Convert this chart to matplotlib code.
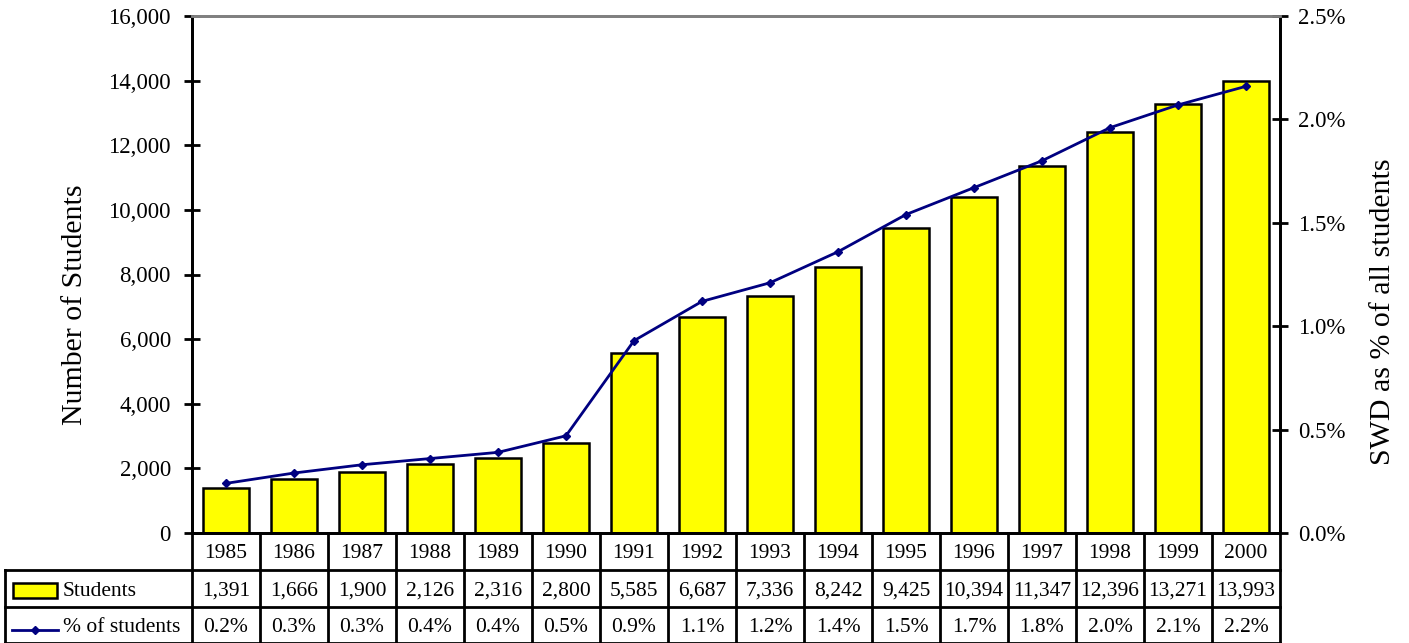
import numpy as np
import matplotlib.pyplot as plt
from matplotlib.patches import Rectangle
from matplotlib.lines import Line2D
from matplotlib.ticker import FuncFormatter
import matplotlib.transforms as mtransforms

plt.rcParams['font.family'] = ['Liberation Serif', 'DejaVu Serif']

# ---- data ----
years = ['1985', '1986', '1987', '1988', '1989', '1990', '1991', '1992',
         '1993', '1994', '1995', '1996', '1997', '1998', '1999', '2000']
students = [1391, 1666, 1900, 2126, 2316, 2800, 5585, 6687,
            7336, 8242, 9425, 10394, 11347, 12396, 13271, 13993]
pct = [0.24, 0.29, 0.33, 0.36, 0.39, 0.47, 0.93, 1.12,
       1.21, 1.36, 1.54, 1.67, 1.80, 1.96, 2.07, 2.16]

W, H = 1409, 643
fig = plt.figure(figsize=(W / 100, H / 100), dpi=100)

# axes box in pixels
x0, x1 = 192, 1280
y_top, y_bot = 16, 533
ax = fig.add_axes([x0 / W, (H - y_bot) / H, (x1 - x0) / W, (y_bot - y_top) / H])
ax2 = ax.twinx()

x = np.arange(len(years))
ax.bar(x, students, width=0.68, color='#FFFF00', edgecolor='black', linewidth=1.8, zorder=2)
ax2.plot(x, pct, color='#000080', lw=2, marker='D', ms=4, zorder=3)

ax.set_xlim(-0.5, len(years) - 0.5)
ax.set_ylim(0, 16000)
ax.set_yticks(np.arange(0, 16001, 2000))
ax.yaxis.set_major_formatter(FuncFormatter(lambda v, p: f'{int(v):,}'))
ax2.set_ylim(0, 2.5)
ax2.set_yticks(np.arange(0, 2.51, 0.5))
ax2.yaxis.set_major_formatter(FuncFormatter(lambda v, p: f'{v:.1f}%'))
ax.set_xticks([])

for a in (ax, ax2):
    a.spines['top'].set_color('#808080')
    a.spines['top'].set_linewidth(2)
    a.spines['left'].set_linewidth(2)
    a.spines['right'].set_linewidth(2)
    a.spines['bottom'].set_linewidth(2)
ax.tick_params(axis='y', direction='inout', length=11.5, width=2, labelsize=16.5, pad=9.5)
ax2.tick_params(axis='y', direction='inout', length=11.5, width=2, labelsize=16.5, pad=7)

fig.text(75 / W, 1 - 305 / H, 'Number of Students', rotation=90, ha='center', va='center', fontsize=21.5)
fig.text(1383 / W, 1 - 312 / H, 'SWD as % of all students', rotation=90, ha='center', va='center', fontsize=21.5)

# ---- data table under the chart ----
bt = mtransforms.blended_transform_factory(ax.transData, fig.transFigure)
ft = fig.transFigure
def fy(py):
    return (H - py) / H
rows_y = [533, 570, 607, 643]
lw = 2
left_px = 5
tfs = 15.5
# horizontal lines
for py in rows_y[1:]:
    fig.add_artist(Line2D([left_px / W, x1 / W], [fy(py), fy(py)], color='black', lw=lw))
# vertical lines
for i in range(len(years) + 1):
    fig.add_artist(Line2D([i - 0.5, i - 0.5], [fy(533), fy(643)], color='black', lw=lw, transform=bt))
fig.add_artist(Line2D([left_px / W, left_px / W], [fy(570), fy(643)], color='black', lw=lw))

for i, yr in enumerate(years):
    fig.text(i, fy(553), yr, transform=bt, ha='center', va='center', fontsize=tfs)
    fig.text(i, fy(591), f'{students[i]:,}', transform=bt, ha='center', va='center', fontsize=tfs)
    fig.text(i, fy(628), f'{pct[i]:.1f}%', transform=bt, ha='center', va='center', fontsize=tfs)

# legend keys in the header column
fig.add_artist(Rectangle((13 / W, fy(598)), 44 / W, 15 / H, facecolor='#FFFF00',
                         edgecolor='black', lw=1.8, transform=ft))
fig.text(63 / W, fy(591), 'Students', ha='left', va='center', fontsize=tfs)
fig.add_artist(Line2D([12 / W, 58 / W], [fy(630), fy(630)], color='#000080', lw=2, transform=ft))
fig.add_artist(Line2D([35 / W], [fy(630)], color='#000080', marker='D', ms=4, lw=0, transform=ft))
fig.text(63 / W, fy(628), '% of students', ha='left', va='center', fontsize=tfs)

fig.savefig('out.png', dpi=100)
